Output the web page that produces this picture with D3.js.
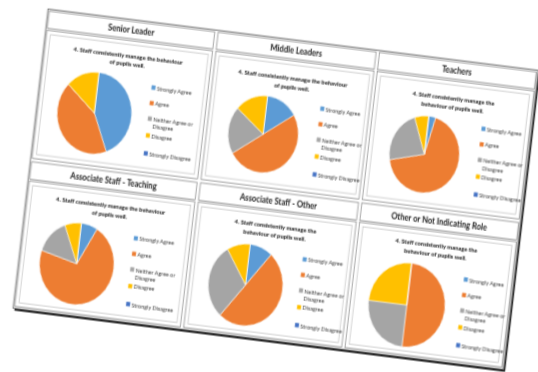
<!DOCTYPE html>
<html><head><meta charset="utf-8">
<script src="https://cdn.jsdelivr.net/npm/d3@7"></script>
<style>html,body{margin:0;padding:0;background:#fff;overflow:hidden}</style>
</head><body>
<svg id="c" width="538" height="372"></svg>
<script>
// ---- data ----
const roles = ["Senior Leader", "Middle Leaders", "Teachers",
  "Associate Staff - Teaching", "Associate Staff - Other", "Other or Not Indicating Role"];
const responses = ["Strongly Agree", "Agree", "Neither Agree or Disagree", "Disagree", "Strongly Disagree"];
const seniorLeader  = [3, 3, 0, 1, 0];
const middleLeaders = [3, 10, 4, 3, 0];
const teachers      = [1, 21, 7, 2, 0];
const assocTeaching = [1, 10, 2, 1, 0];
const assocOther    = [1, 5, 3, 1, 0];
const otherRole     = [0, 2, 1, 1, 0];
const chartTitles = [
  ["4. Staff consistently manage the behaviour", "of pupils well."],
  ["4. Staff consistently manage the behaviour", "of pupils well."],
  ["4. Staff consistently manage the", "behaviour of pupils well."],
  ["4. Staff consistently manage the behaviour", "of pupils well."],
  ["4.  Staff consistently manage the", "behaviour of pupils well."],
  ["4. Staff consistently manage the", "behaviour of pupils well."]
];
const colors = ["#5B9BD5", "#ED7D31", "#A5A5A5", "#FFC000", "#4472C4"];
const seriesByRole = [seniorLeader, middleLeaders, teachers, assocTeaching, assocOther, otherRole];

// ---- layout (local page coordinates, then skewed like the photo) ----
const W = 450, H = 250;
const colX = [0, 155, 303, 450];
const rowY = [0, 126, 250];
const headerH = 16;
const pieR = [34, 32, 32, 34, 34, 35];
const pieOffX = 53, pieOffY = 81, legendOffX = 102;
const legendDy = [-27, -14, -1, 13, 28];

const svg = d3.select("#c");
const defs = svg.append("defs");
defs.append("filter").attr("id", "blur").attr("x", "-5%").attr("y", "-5%").attr("width", "110%").attr("height", "110%")
  .append("feGaussianBlur").attr("stdDeviation", 0.6);

const g = svg.append("g")
  .attr("transform", "matrix(1.089,0.136,-0.14,1.196,48,9)")
  .attr("filter", "url(#blur)")
  .style("font-family", "Lato, 'Noto Sans', sans-serif");

// shadow along right and bottom
g.append("path")
  .attr("d", `M${W + 1.2},1.5 L${W + 1.2},${H + 1.2} L1.5,${H + 1.2}`)
  .attr("fill", "none").attr("stroke", "#111").attr("stroke-width", 1.6);
g.append("rect").attr("x", 0).attr("y", 0).attr("width", W).attr("height", H)
  .attr("fill", "#fff").attr("stroke", "#6a6a6a").attr("stroke-width", 0.8);

const pie = d3.pie().sort(null).value(d => d);

seriesByRole.forEach((vals, i) => {
  const row = Math.floor(i / 3), col = i % 3;
  const x0 = colX[col], x1 = colX[col + 1], y0 = rowY[row], y1 = rowY[row + 1];
  const cell = g.append("g");
  // header cell
  cell.append("rect").attr("x", x0 + 1.5).attr("y", y0 + 1.5).attr("width", x1 - x0 - 3).attr("height", headerH - 1.5)
    .attr("fill", "#fff").attr("stroke", "#7a7a7a").attr("stroke-width", 0.6);
  cell.append("text").attr("x", (x0 + x1) / 2).attr("y", y0 + 11.4)
    .attr("text-anchor", "middle").attr("font-size", 7).attr("font-weight", 700).attr("fill", "#1a1a1a")
    .text(roles[i]);
  // body cell
  cell.append("rect").attr("x", x0 + 1.5).attr("y", y0 + headerH + 1.5).attr("width", x1 - x0 - 3).attr("height", y1 - y0 - headerH - 3)
    .attr("fill", "#fff").attr("stroke", "#7a7a7a").attr("stroke-width", 0.6);
  // chart area
  cell.append("rect").attr("x", x0 + 5).attr("y", y0 + headerH + 5).attr("width", x1 - x0 - 10).attr("height", y1 - y0 - headerH - 10)
    .attr("fill", "#fff").attr("stroke", "#bdbdbd").attr("stroke-width", 0.6);

  const cx = x0 + pieOffX, cy = y0 + pieOffY, r = pieR[i];
  // title
  const tl = chartTitles[i];
  const chartCx = (x0 + x1) / 2;
  cell.append("text").attr("text-anchor", "middle").attr("font-size", 5.3).attr("font-weight", 900).attr("fill", "#262626")
    .selectAll("tspan").data(tl).join("tspan")
    .attr("x", chartCx).attr("y", (d, k) => cy - r - 8 - (tl.length - 1 - k) * 7.2)
    .text(d => d);
  // pie
  const arc = d3.arc().innerRadius(0).outerRadius(r);
  cell.append("g").attr("transform", `translate(${cx},${cy})`)
    .selectAll("path").data(pie(vals)).join("path")
    .attr("d", arc).attr("fill", (d, k) => colors[k])
    .attr("stroke", "#fff").attr("stroke-width", 0.5);
  // legend
  const lg = cell.append("g").attr("transform", `translate(${x0 + legendOffX},${cy})`);
  responses.forEach((name, k) => {
    const y = legendDy[k];
    lg.append("rect").attr("x", 0).attr("y", y - 1.9).attr("width", 3.6).attr("height", 3.6).attr("fill", colors[k]);
    const words = name.split(" ");
    const lines = name.length > 17 ? [words.slice(0, 3).join(" "), words.slice(3).join(" ")] : [name];
    lg.append("text").attr("font-size", 5).attr("font-weight", 400).attr("fill", "#404040")
      .selectAll("tspan").data(lines).join("tspan")
      .attr("x", 4.8).attr("y", (d, j) => y + 1.8 + j * 6.2)
      .text(d => d);
  });
});
</script>
</body></html>
